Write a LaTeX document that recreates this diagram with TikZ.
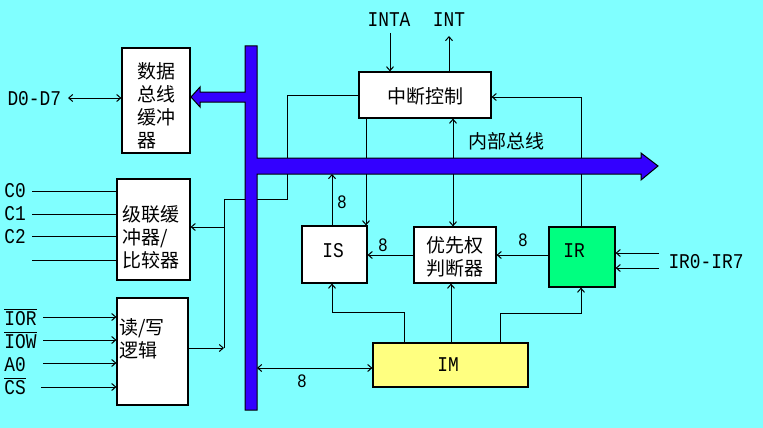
\documentclass[tikz,border=0pt]{standalone}
\usepackage{fontspec}
\setmainfont{Liberation Mono}[FakeStretch=0.85]
\newfontfamily\cjk{Noto Sans CJK SC}
\usetikzlibrary{arrows.meta}
\definecolor{bg}{RGB}{128,255,255}
\definecolor{busc}{RGB}{51,0,255}
\definecolor{irc}{RGB}{0,255,128}
\definecolor{imc}{RGB}{255,255,128}
\newcommand{\myovl}[1]{\leavevmode\vbox{\hrule height 1pt\kern 1.5pt\hbox{#1}}}
\begin{document}
\begin{tikzpicture}[x=1pt,y=-1pt,
  >={Straight Barb[length=4pt,width=7pt]},
  line width=1pt,
  box/.style={draw, line width=1.2pt, fill=white, inner sep=0pt, anchor=center},
  cn/.style={font=\cjk\fontsize{19}{23}\selectfont, inner sep=0pt},
  lab/.style={font=\fontsize{21}{23}\selectfont, inner sep=0pt},
  num/.style={font=\fontsize{19}{20}\selectfont, inner sep=0pt}]
\useasboundingbox[fill=bg] (0,0) rectangle (763,428);

% boxes
\node[box, minimum width=68pt, minimum height=105pt] (db) at (156,100.5) {};
\node[cn, align=left] (dbt) at (156,106) {数据\\总线\\缓冲\\器};
\node[box, minimum width=73pt, minimum height=101pt] (cb) at (153.5,229.5) {};
\node[cn, align=left] (cbt) at (151,237) {级联缓\\冲器/\\比较器};
\node[box, minimum width=71pt, minimum height=107pt] (rw) at (152.5,351.5) {};
\node[cn, align=left, anchor=north west] (rwt) at (119,318) {读/写\\逻辑};
\node[box, minimum width=132pt, minimum height=46pt] (ic) at (425,95) {};
\node[cn] (ict) at (425,96) {中断控制};
\node[box, minimum width=65pt, minimum height=57pt] (is) at (334.5,254.5) {};
\node[lab] (ist) at (333,251) {IS};
\node[box, minimum width=82pt, minimum height=56pt] (pr) at (455,255) {};
\node[cn, align=left] (prt) at (455,257) {优先权\\判断器};
\node[box, fill=irc, minimum width=66pt, minimum height=60pt] (ir) at (582,257) {};
\node[lab] (irt) at (574,251) {IR};
\node[box, fill=imc, minimum width=155pt, minimum height=44pt] (im) at (450.5,365) {};
\node[lab] (imt) at (448,365) {IM};

% outside labels
\node[lab, anchor=west] (d07) at (7,99) {D0-D7};
\node[lab, anchor=west] (c0) at (4,191) {C0};
\node[lab, anchor=west] (c1) at (4,214) {C1};
\node[lab, anchor=west] (c2) at (4,237) {C2};
\node[lab, anchor=south west] (ior) at (4,326) {\myovl{IOR}};
\node[lab, anchor=south west] (iow) at (4,349) {\myovl{IOW}};
\node[lab, anchor=west] (a0) at (4,365) {A0};
\node[lab, anchor=south west] (cs) at (4,395) {\myovl{CS}};
\node[lab] (inta) at (389,20) {INTA};
\node[lab] (int) at (449,20) {INT};
\node[lab, anchor=west] (irin) at (668,262) {IR0-IR7};
\node[cn] (nb) at (506,141) {内部总线};
\node[num] (n1) at (342,202) {8};
\node[num] (n2) at (383,245) {8};
\node[num] (n3) at (523,240) {8};
\node[num] (n4) at (302,381) {8};

% left side wires
\draw[<->] (68,98) -- (db.west |- 0,98);
\draw (32,191) -- (cb.west |- 0,191);
\draw (32,214) -- (cb.west |- 0,214);
\draw (32,236) -- (cb.west |- 0,236);
\draw (32,260) -- (cb.west |- 0,260);
\draw[->] (43,317) -- (rw.west |- 0,317);
\draw[->] (43,340) -- (rw.west |- 0,340);
\draw[->] (43,363) -- (rw.west |- 0,363);
\draw[->] (41,387) -- (rw.west |- 0,387);

% control lines
\coordinate (j1) at (224,348);
\coordinate (j2) at (224,227);
\draw[->] (rw.east |- j1) -- (j1);
\draw (j1) -- (224,199) -- (287,199) -- (287,95) -- (ic.west);
\draw[->] (j2) -- (cb.east |- j2);

% interrupt control
\draw[->] (390,33) -- (ic.north -| 390,0);
\draw[->] (ic.north -| 449,0) -- (449,36);
\draw[->] (ic.south -| 366,0) -- (is.north -| 366,0);
\draw[->] (453,158) -- (ic.south -| 453,0);
\draw[->] (453,174) -- (pr.north -| 453,0);
\draw[->] (is.north -| 332,0) -- (332,174);
\draw[->] (pr.west |- 0,255) -- (is.east |- 0,255);
\draw[->] (ir.west |- 0,255) -- (pr.east |- 0,255);
\draw[->] (659,253) -- (ir.east |- 0,253);
\draw[->] (659,268) -- (ir.east |- 0,268);
\draw[->] (ir.north -| 581,0) -- (581,97) -- (ic.east |- 0,97);

% mask lines
\draw[->] (im.north -| 404,0) -- (404,312) -- (332,312) -- (is.south -| 332,0);
\draw[->] (im.north -| 451,0) -- (pr.south -| 451,0);
\draw[->] (im.north -| 500,0) -- (500,313) -- (581,313) -- (ir.south -| 581,0);
\draw[<->] (257,368) -- (im.west |- 0,368);

% bus
\filldraw[fill=busc, draw=black, line width=1pt]
  (245,46) -- (257,46) -- (257,158) -- (641,158) -- (641,153) -- (658,166)
  -- (641,180) -- (641,174) -- (257,174) -- (257,410) -- (245,410)
  -- (245,102) -- (200,102) -- (200,107) -- (191,97) -- (200,87)
  -- (200,92) -- (245,92) -- cycle;
\end{tikzpicture}
\end{document}
